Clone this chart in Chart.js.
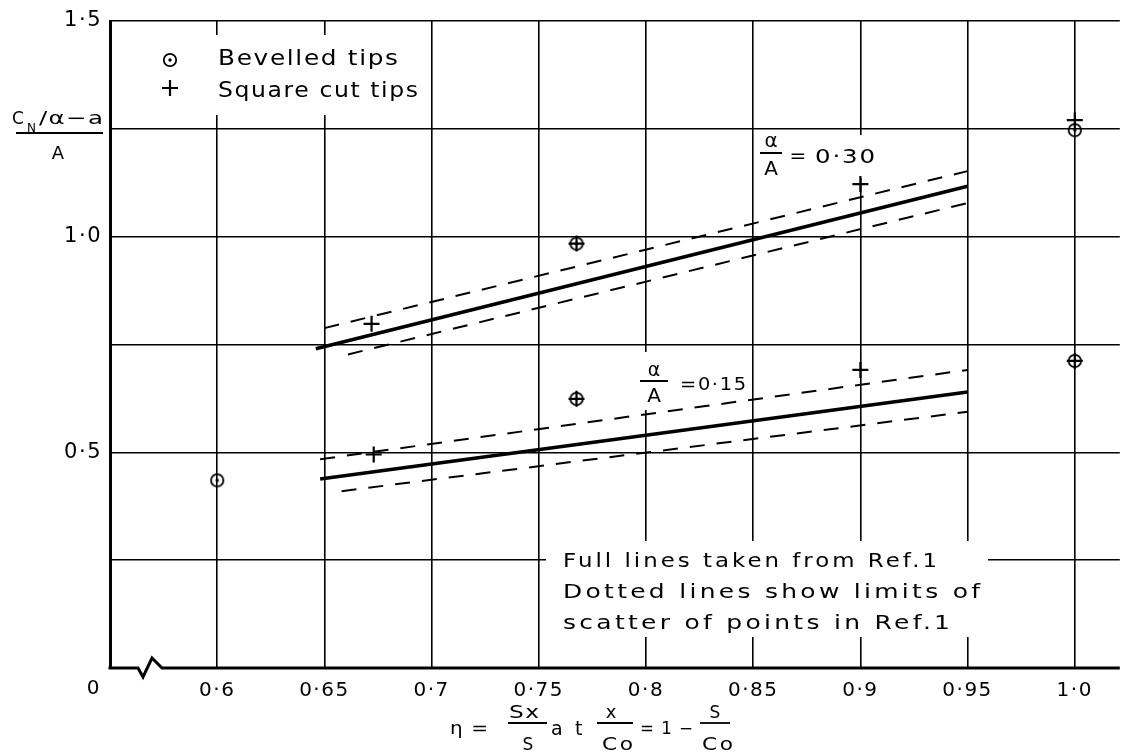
<!DOCTYPE html>
<html><head><meta charset="utf-8">
<script src="https://cdn.jsdelivr.net/npm/chart.js@4.4.1/dist/chart.umd.min.js"></script>
<style>html,body{margin:0;padding:0;background:#fff}#wrap{width:1130px;height:753px}</style>
</head><body><div id="wrap"><canvas id="c" width="1130" height="753"></canvas></div>
<script>
const FONT = '"DejaVu Sans", sans-serif';

// ---- tick values / labels ----
const xTickValues = [0.55, 0.6, 0.65, 0.7, 0.75, 0.8, 0.85, 0.9, 0.95, 1.0];
const xTickLabels = ['', '0·6', '0·65', '0·7', '0·75', '0·8', '0·85', '0·9', '0·95', '1·0'];
const yTickValues = [0, 0.25, 0.5, 0.75, 1.0, 1.25, 1.5];
const yTickLabels = ['', '', '0·5', '', '1·0', '', '1·5'];

// ---- measured points ----
const bevelledX = [0.6, 0.7676, 0.7676, 1.0, 1.0];
const bevelledY = [0.435, 0.984, 0.624, 1.247, 0.712];
const squareX = [0.672, 0.673, 0.7676, 0.7676, 0.9, 0.9, 1.0, 1.0];
const squareY = [0.798, 0.495, 0.984, 0.624, 1.122, 0.691, 1.27, 0.712];

// ---- lines from Ref.1 (alpha/A = 0.30) ----
const full030X = [0.646, 0.95];  const full030Y = [0.74, 1.117];
const upper030X = [0.65, 0.95];  const upper030Y = [0.788, 1.152];
const lower030X = [0.661, 0.95]; const lower030Y = [0.727, 1.078];
// ---- lines from Ref.1 (alpha/A = 0.15) ----
const full015X = [0.648, 0.95];  const full015Y = [0.438, 0.640];
const upper015X = [0.648, 0.95]; const upper015Y = [0.484, 0.691];
const lower015X = [0.658, 0.95]; const lower015Y = [0.41, 0.594];

const pts = (xs, ys) => xs.map((x, i) => ({x: x, y: ys[i]}));

function makeBevelled() {
  const c = document.createElement('canvas'); c.width = 18; c.height = 18;
  const g = c.getContext('2d'); g.strokeStyle = '#000'; g.lineWidth = 1.8;
  g.beginPath(); g.arc(9, 9, 6.2, 0, Math.PI * 2); g.stroke();
  g.fillStyle = '#000'; g.beginPath(); g.arc(9, 9, 1.7, 0, Math.PI * 2); g.fill();
  return c;
}
const bevImg = makeBevelled();

// draw text starting at x so that it spans `width` px (slight letter spacing + horizontal stretch)
function fitText(ctx, text, x, y, width, font, ls) {
  ls = ls === undefined ? 1.5 : ls;
  ctx.save();
  ctx.font = font;
  ctx.letterSpacing = ls + 'px';
  ctx.textAlign = 'left';
  const w = ctx.measureText(text).width - ls;
  const sx = width / w;
  ctx.translate(x, y);
  ctx.scale(sx, 1);
  ctx.fillText(text, 0, 0);
  ctx.restore();
}
function txt(ctx, text, x, y, font, align) {
  ctx.font = font; ctx.textAlign = align || 'left'; ctx.fillText(text, x, y);
}
function hline(ctx, x1, x2, y, w) {
  ctx.lineWidth = w; ctx.beginPath(); ctx.moveTo(x1, y); ctx.lineTo(x2, y); ctx.stroke();
}

const decor = {
  id: 'decor',
  beforeUpdate(chart) { chart.ctx.letterSpacing = '1.5px'; },
  beforeDraw(chart) { chart.ctx.letterSpacing = '1.5px'; },
  beforeDatasetsDraw(chart) {
    const ctx = chart.ctx;
    ctx.save();
    ctx.fillStyle = '#fff';
    ctx.fillRect(150, 35, 275, 80);     // legend
    ctx.fillRect(755, 135, 125, 43);    // alpha/A = 0.30
    ctx.fillRect(638, 352, 112, 58);    // alpha/A = 0.15
    ctx.fillRect(546, 541, 442, 96);    // note box
    ctx.restore();
  },
  afterDatasetsDraw(chart) {
    const ctx = chart.ctx;
    const ya = chart.scales.y, xa = chart.scales.x;
    const y0 = ya.getPixelForValue(0);
    ctx.save();
    ctx.letterSpacing = '0px';
    ctx.strokeStyle = '#000'; ctx.fillStyle = '#000';
    ctx.lineJoin = 'miter'; ctx.lineCap = 'butt';
    // bottom axis with break
    ctx.lineWidth = 3;
    ctx.beginPath();
    ctx.moveTo(xa.left - 1.5, y0);
    ctx.lineTo(138, y0); ctx.lineTo(143, y0 + 9); ctx.lineTo(152, y0 - 10); ctx.lineTo(162, y0);
    ctx.lineTo(xa.right, y0);
    ctx.stroke();

    ctx.textBaseline = 'alphabetic';
    // origin label
    txt(ctx, '0', 93, 694, '20px ' + FONT, 'center');

    // legend
    ctx.drawImage(bevImg, 170 - 9, 60 - 9);
    ctx.lineWidth = 2.2;
    ctx.beginPath(); ctx.moveTo(162, 88); ctx.lineTo(178, 88); ctx.moveTo(170, 80); ctx.lineTo(170, 96); ctx.stroke();
    fitText(ctx, 'Bevelled tips', 218, 65, 180, '22px ' + FONT);
    fitText(ctx, 'Square cut tips', 218, 97, 200, '22px ' + FONT);

    // alpha/A = 0.30
    txt(ctx, 'α', 771, 147, '20px ' + FONT, 'center');
    hline(ctx, 760, 782, 153, 2);
    txt(ctx, 'A', 771, 175, '20px ' + FONT, 'center');
    txt(ctx, '=', 798, 162, '20px ' + FONT, 'center');
    fitText(ctx, '0·30', 815, 163, 60, '20px ' + FONT);

    // alpha/A = 0.15
    txt(ctx, 'α', 654, 376, '19px ' + FONT, 'center');
    hline(ctx, 640, 668, 381, 2);
    txt(ctx, 'A', 654, 402, '20px ' + FONT, 'center');
    fitText(ctx, '=0·15', 680, 390, 66, '18px ' + FONT);

    // note box
    fitText(ctx, 'Full lines taken from Ref.1', 563, 567, 374, '19px ' + FONT, 2.5);
    fitText(ctx, 'Dotted lines show limits of', 563, 598, 417, '19px ' + FONT, 2.5);
    fitText(ctx, 'scatter of points in Ref.1', 563, 629, 387, '19px ' + FONT, 2.5);

    // y-axis title  (C_N/alpha - a) / A
    txt(ctx, 'C', 12, 124, '17px ' + FONT);
    txt(ctx, 'N', 27, 132, '12px ' + FONT);
    fitText(ctx, '/α−a', 39, 124, 64, '18px ' + FONT, 1);
    hline(ctx, 16, 103, 133, 2);
    txt(ctx, 'A', 58, 159, '18px ' + FONT, 'center');

    // x-axis title  eta = Sx/S at x/Co = 1 - S/Co
    fitText(ctx, 'η =', 450, 734, 38, '18px ' + FONT, 1);
    fitText(ctx, 'Sx', 509, 718, 30, '17px ' + FONT, 1);
    hline(ctx, 508, 547, 723, 1.8);
    txt(ctx, 'S', 528, 750, '17px ' + FONT, 'center');
    txt(ctx, 'a', 551, 735, '19px ' + FONT);
    txt(ctx, 't', 575, 735, '19px ' + FONT);
    txt(ctx, 'x', 611, 718, '18px ' + FONT, 'center');
    hline(ctx, 597, 633, 723, 1.8);
    fitText(ctx, 'Co', 602, 750, 31, '17px ' + FONT, 2);
    fitText(ctx, '= 1 −', 640, 734, 53, '17px ' + FONT, 1);
    txt(ctx, 'S', 715, 718, '17px ' + FONT, 'center');
    hline(ctx, 700, 730, 723, 1.8);
    fitText(ctx, 'Co', 702, 750, 31, '17px ' + FONT, 2);
    ctx.restore();
  }
};

const lineDs = (data, dashed) => ({
  type: 'scatter', data: data, showLine: true, pointRadius: 0, pointHoverRadius: 0,
  borderColor: '#000', borderWidth: dashed ? 2 : 3.5, borderDash: dashed ? [15, 12] : [],
  fill: false
});

new Chart(document.getElementById('c'), {
  type: 'scatter',
  data: {
    datasets: [
      { label: 'Square cut tips', data: pts(squareX, squareY), pointStyle: 'cross', pointRadius: 8,
        pointBorderWidth: 2.2, borderColor: '#000', backgroundColor: '#000', showLine: false },
      { label: 'Bevelled tips', data: pts(bevelledX, bevelledY), pointStyle: bevImg, pointRadius: 9,
        borderColor: '#000', backgroundColor: '#000', showLine: false },
      lineDs(pts(full030X, full030Y), false),
      lineDs(pts(upper030X, upper030Y), true),
      lineDs(pts(lower030X, lower030Y), true),
      lineDs(pts(full015X, full015Y), false),
      lineDs(pts(upper015X, upper015Y), true),
      lineDs(pts(lower015X, lower015Y), true)
    ]
  },
  options: {
    responsive: false, animation: false, devicePixelRatio: 1,
    layout: { padding: { top: 21, left: 0, right: 0, bottom: 0 } },
    plugins: { legend: { display: false }, tooltip: { enabled: false } },
    scales: {
      x: {
        type: 'linear', min: 0.55, max: 1.021,
        afterBuildTicks(s) { s.ticks = xTickValues.map(v => ({ value: v })); },
        afterFit(s) { s.height = 85; },
        grid: { color: '#000', lineWidth: c => (c.tick && c.tick.value === 0.55) ? 0 : 1.6, drawTicks: false },
        border: { display: false },
        ticks: { padding: 11, color: '#000', font: { family: FONT, size: 20 }, maxRotation: 0, autoSkip: false,
                 callback: (v, i) => xTickLabels[i] }
      },
      y: {
        type: 'linear', min: 0, max: 1.5,
        afterBuildTicks(s) { s.ticks = yTickValues.map(v => ({ value: v })); },
        afterFit(s) { s.width = 110; },
        grid: { color: '#000', lineWidth: c => (c.tick && c.tick.value === 0) ? 0 : 1.6, drawTicks: false },
        border: { display: true, width: 3, color: '#000' },
        ticks: { padding: 8, color: '#000', font: { family: FONT, size: 21 }, autoSkip: false,
                 callback: (v, i) => yTickLabels[i] }
      }
    }
  },
  plugins: [decor]
});
</script></body></html>
